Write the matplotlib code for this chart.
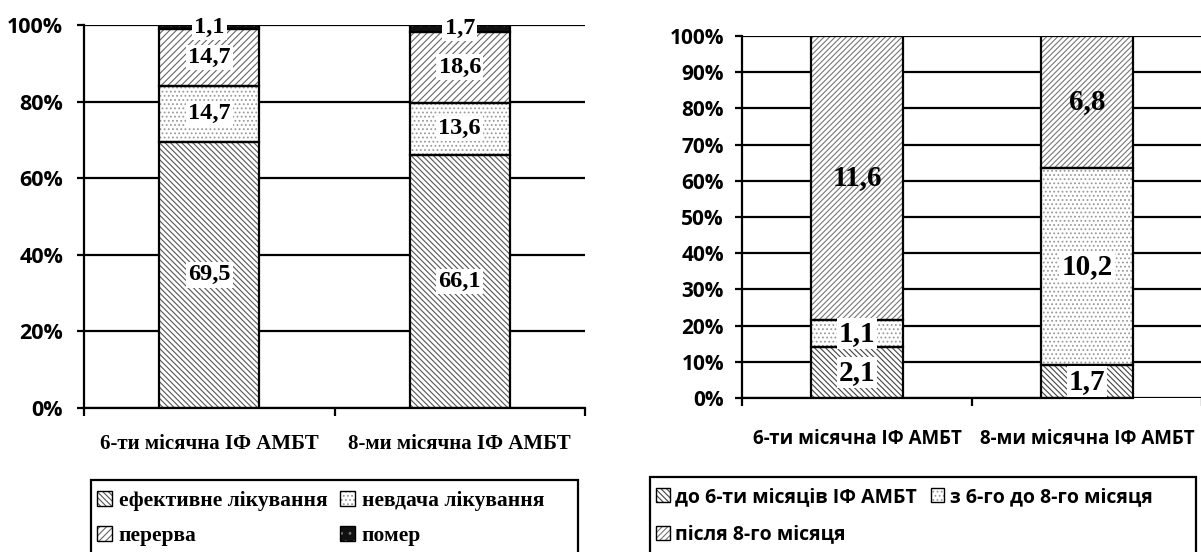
import numpy as np
import matplotlib
matplotlib.use("Agg")
import matplotlib.pyplot as plt
from matplotlib.patches import Patch, Rectangle

plt.rcParams['hatch.linewidth'] = 0.8

SERIF = 'Liberation Serif'
SANS = 'Open Sans'

# left chart: treatment outcomes, %
groups = ['6-ти місячна ІФ АМБТ', '8-ми місячна ІФ АМБТ']
outcome_names = ['ефективне лікування', 'невдача лікування', 'перерва', 'помер']
effective = [69.5, 66.1]
failure = [14.7, 13.6]
interrupted = [14.7, 18.6]
died = [1.1, 1.7]

# right chart: time of interruption (values shown on bars, stacked to 100%)
period_names = ['до 6-ти місяців ІФ АМБТ', 'з 6-го до 8-го місяця', 'після 8-го місяця']
before_6 = [2.1, 1.7]
from_6_to_8 = [1.1, 10.2]
after_8 = [11.6, 6.8]

# fill styles: (face, hatch colour, hatch)
styles_left = [('white', '#555555', '\\\\\\\\\\\\'),
               ('white', '#9a9a9a', '....'),
               ('white', '#666666', '/////'),
               ('#111111', '#777777', '..')]
styles_right = [('white', '#444444', '\\\\\\\\\\\\'),
                ('white', '#9a9a9a', '....'),
                ('white', '#777777', '//////')]

W, H = 1201, 552
fig = plt.figure(figsize=(W / 100, H / 100), dpi=100)


def stacked(ax, series, styles, label_boxes, fs):
    x = np.arange(len(groups))
    data = np.array(series, dtype=float)
    pct = data / data.sum(axis=0) * 100
    bottom = np.zeros(len(groups))
    for i, (vals, (face, hc, hatch)) in enumerate(zip(pct, styles)):
        ax.bar(x, vals, 0.4, bottom=bottom, color=face, edgecolor=hc,
               hatch=hatch, linewidth=0, zorder=2)
        ax.bar(x, vals, 0.4, bottom=bottom, fill=False, edgecolor='black',
               linewidth=1.6, zorder=3)
        for j in range(len(groups)):
            txt = f"{data[i, j]:.1f}".replace('.', ',')
            kw = {}
            if label_boxes[i][j]:
                kw['bbox'] = dict(facecolor='white', edgecolor='none', pad=1.5)
            ax.text(x[j], bottom[j] + vals[j] / 2, txt, ha='center', va='center',
                    fontfamily=SERIF, fontweight='bold', fontsize=fs, zorder=4, **kw)
        bottom += vals
    ax.set_xlim(-0.5, 1.5)
    ax.set_ylim(0, 100)
    ax.yaxis.grid(True, color='black', linewidth=1.6, zorder=0)
    ax.set_axisbelow(True)
    for s in ['top', 'right']:
        ax.spines[s].set_visible(False)
    ax.spines['left'].set_linewidth(1.6)
    ax.spines['bottom'].set_linewidth(1.6)
    ax.set_xticks(x)
    ax.set_xticks([-0.5, 0.5, 1.5], minor=True)
    ax.tick_params(axis='x', which='minor', length=6, width=1.6, direction='out')
    ax.tick_params(axis='y', length=5, width=1.6, direction='out')


def legend_handles(styles):
    # hatched square with a black outline on top
    return [(Patch(facecolor=f, edgecolor=c, hatch=h, linewidth=0),
             Patch(fill=False, edgecolor='black', linewidth=1.0))
            for f, c, h in styles]


def add_legend(handles, labels, box_left, box_top, box_width, x, y, colsp, rowsp, prop):
    fig.legend(handles, labels, loc='upper left',
               bbox_to_anchor=(x / W, 1 - y / H), frameon=False,
               ncol=2, handlelength=0.7, handleheight=0.7,
               handletextpad=0.3, borderpad=0, labelspacing=rowsp,
               columnspacing=colsp, borderaxespad=0, prop=prop)
    # frame runs off the bottom edge of the figure
    fig.add_artist(Rectangle((box_left / W, -0.2), box_width / W, 1 - box_top / H + 0.2,
                             transform=fig.transFigure, fill=False,
                             edgecolor='black', linewidth=1.6))


# left chart
ax1 = fig.add_axes([84 / W, 1 - 408 / H, 501 / W, 383 / H])
stacked(ax1, [effective, failure, interrupted, died], styles_left,
        [[True, True]] * 4, 17.5)
ax1.set_yticks(np.arange(0, 101, 20))
ax1.set_yticklabels([f"{v}%" for v in range(0, 101, 20)],
                    fontfamily=SANS, fontweight='bold', fontsize=15.5)
ax1.tick_params(axis='y', pad=10)
ax1.set_xticklabels(groups, fontfamily=SERIF, fontweight='bold', fontsize=15)
ax1.tick_params(axis='x', which='major', length=0, pad=19)

h1 = legend_handles(styles_left)
order = [0, 2, 1, 3]
add_legend([h1[i] for i in order], [outcome_names[i] for i in order],
           91, 480, 487, 97, 491, 0.6, 0.7,
           {'family': SERIF, 'weight': 'bold', 'size': 15.5})

# right chart
ax2 = fig.add_axes([742 / W, 1 - 398 / H, 460 / W, 362 / H])
stacked(ax2, [before_6, from_6_to_8, after_8], styles_right,
        [[True, True], [True, True], [False, False]], 21)
ax2.set_yticks(np.arange(0, 101, 10))
ax2.set_yticklabels([f"{v}%" for v in range(0, 101, 10)],
                    fontfamily=SANS, fontweight='bold', fontsize=15)
ax2.tick_params(axis='y', pad=8)
ax2.set_xticklabels(groups, fontfamily=SANS, fontweight='bold', fontsize=13.5)
ax2.tick_params(axis='x', which='major', length=0, pad=22)
ax2.spines['bottom'].set_bounds(-0.5, 1.2)

h2 = legend_handles(styles_right)
order = [0, 2, 1]
add_legend([h2[i] for i in order], [period_names[i] for i in order],
           650, 477, 546, 656, 487, 0.7, 0.9,
           {'family': SANS, 'weight': 'bold', 'size': 14})

fig.savefig('out.png', dpi=100)
